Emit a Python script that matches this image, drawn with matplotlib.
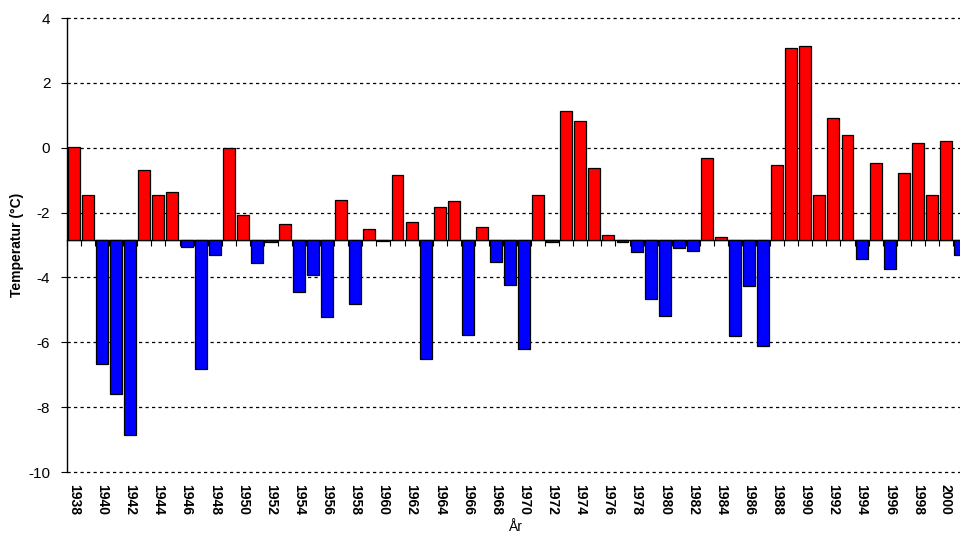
import numpy as np
import matplotlib.pyplot as plt

plt.rcParams['font.family'] = ['Liberation Sans', 'DejaVu Sans']

# yearly temperature (deg C); bars hang from the mean
years = list(range(1938, 2002))
temps = [0.03, -1.47, -6.66, -7.59, -8.86, -0.69, -1.46, -1.38, -3.06, -6.82,
         -3.30, 0.00, -2.08, -3.54, -2.90, -2.36, -4.45, -3.94, -5.23, -1.61,
         -4.81, -2.51, -2.88, -0.83, -2.30, -6.51, -1.82, -1.64, -5.77, -2.44,
         -3.53, -4.24, -6.22, -1.46, -2.90, 1.12, 0.82, -0.64, -2.70, -2.92,
         -3.22, -4.67, -5.19, -3.08, -3.18, -0.32, -2.74, -5.82, -4.26, -6.10,
         -0.53, 3.06, 3.15, -1.46, 0.93, 0.39, -3.42, -0.48, -3.75, -0.77,
         0.16, -1.45, 0.22, -3.30]
baseline = -2.86
year_labels = list(range(1938, 2001, 2))
y_ticks = list(range(-10, 5, 2))

x = np.array(years)
t = np.array(temps)
colors = ['#FF0000' if v >= baseline else '#0000FF' for v in t]

fig = plt.figure(figsize=(9.6, 5.34), dpi=100)
ax = fig.add_axes([67/960, 1 - 472/534, (960 - 67)/960, 454/534])

ax.bar(x, t - baseline, bottom=baseline, width=0.85, color=colors,
       edgecolor='black', linewidth=0.9, zorder=3)

ax.set_xlim(1937.5, 2001.0)
ax.set_ylim(-10, 4)
ax.set_yticks(y_ticks)
ax.set_yticklabels([str(v) for v in y_ticks])
ax.tick_params(axis='y', direction='out', length=4, width=0.8, pad=8,
               labelsize=11)

# dotted horizontal gridlines
ax.yaxis.grid(True, color='black', linewidth=0.9, linestyle=(0, (2.6, 2.6)),
              zorder=0)
ax.set_axisbelow(True)
for gl in ax.get_ygridlines():
    gl.set_clip_on(False)

# category axis sits on the baseline, ticks between categories
ax.spines['bottom'].set_position(('data', baseline))
ax.spines['bottom'].set_linewidth(1.0)
ax.spines['left'].set_linewidth(1.0)
ax.spines['top'].set_visible(False)
ax.spines['right'].set_visible(False)
ax.set_xticks([])
ax.set_xticks(np.arange(1937.5, 2001.5, 1.0), minor=True)
ax.tick_params(axis='x', which='minor', direction='out', length=4, width=0.8)

# year labels at the bottom of the plot area
sec = ax.secondary_xaxis('bottom')
sec.set_xticks(year_labels)
sec.set_xticklabels([str(y) for y in year_labels], rotation=270,
                    fontweight='bold', fontsize=10)
sec.tick_params(axis='x', length=0, pad=9)
sec.spines['bottom'].set_visible(False)

ax.set_ylabel('Temperatur (°C)', fontweight='bold', fontsize=10)
ax.yaxis.set_label_coords(-0.048, 0.5)
fig.text(516/960, 1 - 527/534, 'År', ha='center', va='center', fontsize=10)

fig.savefig('out.png', dpi=100)
